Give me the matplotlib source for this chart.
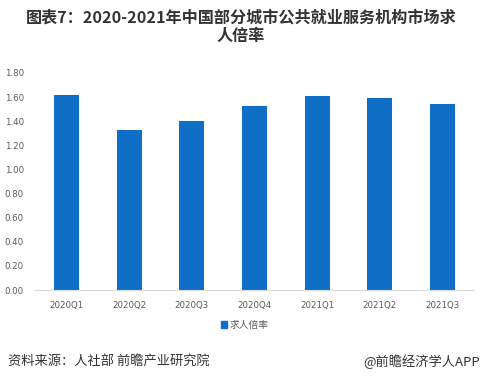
import matplotlib
matplotlib.use("Agg")
import matplotlib.pyplot as plt
from matplotlib.patches import Patch

plt.rcParams['font.family'] = ['Noto Sans CJK SC', 'DejaVu Sans']

categories = ["2020Q1", "2020Q2", "2020Q3", "2020Q4", "2021Q1", "2021Q2", "2021Q3"]
values = [1.62, 1.33, 1.40, 1.53, 1.61, 1.59, 1.54]
series_name = "求人倍率"
yticks = [0.0, 0.2, 0.4, 0.6, 0.8, 1.0, 1.2, 1.4, 1.6, 1.8]

bar_color = "#0F6FC6"
tick_color = "#595959"

fig = plt.figure(figsize=(4.82, 3.82), dpi=100)
ax = fig.add_axes([35/482, 1-290/382, (474-35)/482, (290-73)/382])

x = range(len(categories))
ax.bar(x, values, width=0.4, color=bar_color, zorder=2)
ax.set_xlim(-0.5, len(categories)-0.5)
ax.set_ylim(0, 1.8)
ax.set_yticks(yticks)
ax.set_yticklabels([f"{v:.2f}" for v in yticks], fontsize=6.2, color=tick_color,
                   family=['DejaVu Sans'])
ax.set_xticks(list(x))
ax.set_xticklabels(categories, fontsize=6.2, color=tick_color, family=['DejaVu Sans'])
ax.tick_params(axis='both', length=0)
ax.tick_params(axis='y', pad=8)
ax.tick_params(axis='x', pad=8)
for s in ['top', 'right', 'left']:
    ax.spines[s].set_visible(False)
ax.spines['bottom'].set_color('#D9D9D9')
ax.spines['bottom'].set_linewidth(0.8)

fig.legend(handles=[Patch(color=bar_color, label=series_name)],
           loc='center', bbox_to_anchor=(245/482, 1-325/382), frameon=False,
           fontsize=7, handlelength=0.6, handleheight=0.6, handletextpad=0.3,
           labelcolor=tick_color)

fig.text(0.5, 1-18/382, "图表7：2020-2021年中国部分城市公共就业服务机构市场求",
         ha='center', va='center', fontsize=11.6, fontweight='bold', color='#333333')
fig.text(0.5, 1-36/382, "人倍率",
         ha='center', va='center', fontsize=11.6, fontweight='bold', color='#333333')

fig.text(8/482, 1-362/382, "资料来源：人社部 前瞻产业研究院", ha='left', va='center',
         fontsize=9.5, color='#333333')
fig.text(480/482, 1-362/382, "@前瞻经济学人APP", ha='right', va='center',
         fontsize=9.5, color='#333333')

fig.savefig("out.png", dpi=100, facecolor='white')
